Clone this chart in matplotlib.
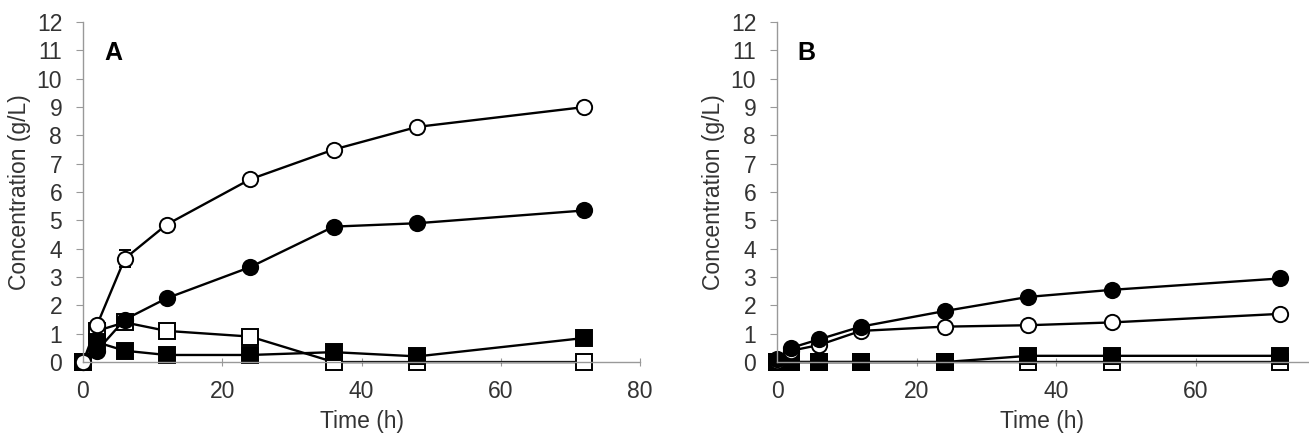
import matplotlib
matplotlib.use('Agg')
import matplotlib.pyplot as plt

plt.rcParams['font.family'] = ['Liberation Sans', 'DejaVu Sans']

# Sampling times (h)
time = [0, 2, 6, 12, 24, 36, 48, 72]

# Panel A
a_open_circle = [0.0, 1.3, 3.65, 4.85, 6.45, 7.5, 8.3, 9.0]
a_open_circle_err = [0, 0, 0.3, 0, 0, 0, 0, 0]
a_filled_circle = [0.0, 0.4, 1.5, 2.25, 3.35, 4.78, 4.9, 5.35]
a_open_square = [0.0, 1.1, 1.4, 1.1, 0.9, 0.0, 0.0, 0.0]
a_filled_square = [0.0, 0.7, 0.4, 0.25, 0.25, 0.35, 0.2, 0.85]

# Panel B
b_filled_circle = [0.1, 0.5, 0.8, 1.25, 1.8, 2.3, 2.55, 2.95]
b_open_circle = [0.05, 0.4, 0.6, 1.1, 1.25, 1.3, 1.4, 1.7]
b_filled_square = [0.0, 0.0, 0.0, 0.0, 0.0, 0.22, 0.22, 0.22]
b_open_square = [0.0, 0.0, 0.0, 0.0, 0.0, 0.0, 0.0, 0.0]

y_ticks = list(range(0, 13))

fig = plt.figure(figsize=(13.09, 4.41), dpi=100)
ax_a = fig.add_axes([0.0634, 0.179, 0.4256, 0.771])
ax_b = fig.add_axes([0.5936, 0.179, 0.4054, 0.771])

line_kw = dict(color='black', lw=1.7, markersize=11, markeredgewidth=1.4)


def style_axis(ax, xmax, xticks, letter):
    ax.set_ylim(0, 12)
    ax.set_xlim(0, xmax)
    ax.set_yticks(y_ticks)
    ax.set_xticks(xticks)
    for s in ['top', 'right']:
        ax.spines[s].set_visible(False)
    for s in ['left', 'bottom']:
        ax.spines[s].set_color('#999999')
        ax.spines[s].set_linewidth(1.0)
    ax.tick_params(axis='y', direction='out', length=5, color='#999999',
                   labelsize=16.5, pad=10)
    ax.tick_params(axis='x', direction='inout', length=6, color='#999999',
                   labelsize=16.5, pad=10)
    ax.set_ylabel('Concentration (g/L)', fontsize=16.5, color='#333333',
                  labelpad=4)
    ax.set_xlabel('Time (h)', fontsize=16.5, color='#333333', labelpad=5)
    ax.text(0.055, 0.91, letter, transform=ax.transAxes, fontsize=18,
            fontweight='bold', va='center', ha='center')
    for lab in ax.get_xticklabels() + ax.get_yticklabels():
        lab.set_color('#333333')


# Panel A
ax_a.plot(time, a_open_square, marker='s', mfc='white', mec='black', **line_kw)
ax_a.plot(time, a_filled_square, marker='s', mfc='black', mec='black', **line_kw)
ax_a.plot(time, a_filled_circle, marker='o', mfc='black', mec='black', **line_kw)
ax_a.errorbar(time, a_open_circle, yerr=a_open_circle_err, marker='o',
              mfc='white', mec='black', capsize=4, elinewidth=1.2, **line_kw)
style_axis(ax_a, 80, [0, 20, 40, 60, 80], 'A')

# Panel B
ax_b.plot(time, b_open_square, marker='s', mfc='white', mec='black', **line_kw)
ax_b.plot(time, b_filled_square, marker='s', mfc='black', mec='black', **line_kw)
ax_b.plot(time, b_open_circle, marker='o', mfc='white', mec='black', **line_kw)
ax_b.plot(time, b_filled_circle, marker='o', mfc='black', mec='black', **line_kw)
style_axis(ax_b, 76, [0, 20, 40, 60], 'B')

for ax in (ax_a, ax_b):
    for line in ax.lines:
        line.set_clip_on(False)

fig.savefig('out.png', dpi=100)
